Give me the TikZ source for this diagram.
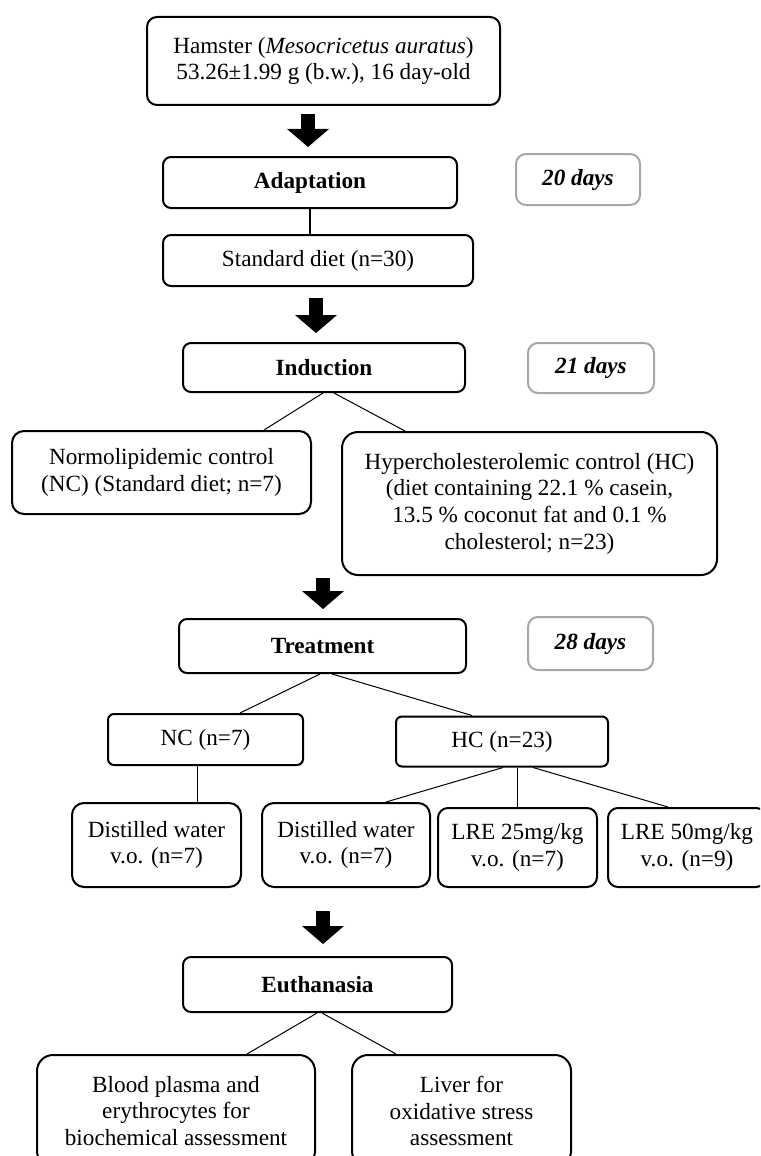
\documentclass[tikz,border=0pt]{standalone}
\usepackage{fontspec}
\setmainfont{Liberation Serif}
\usetikzlibrary{arrows.meta}
\definecolor{daygray}{HTML}{A6A6A6}
\newcommand{\flowfont}{\fontsize{11.6}{13.35}\selectfont}

\begin{document}
\begin{tikzpicture}[x=0.5pt, y=-0.5pt, font=\flowfont,
    box/.style={draw, line width=1pt, rounded corners=4pt, align=center, inner sep=0pt},
    stage/.style={box, font=\flowfont\bfseries},
    daybox/.style={draw=daygray, line width=1pt, rounded corners=5pt, inner sep=0pt,
        font=\flowfont\bfseries\itshape},
    link/.style={line width=0.5pt},
    bigarrow/.style={line width=7pt, -{Triangle[length=9pt, width=21pt, line width=0pt]}}]
    % Fix the page to the picture frame
    \useasboundingbox (0,0) rectangle (760,1156);
    \clip (0,0) rectangle (760,1156);

    % 1. Animals and adaptation
    \node[box, rounded corners=5pt, minimum width=176.5pt, minimum height=44pt] (hamster) at (323.5,61)
        {Hamster (\textit{Mesocricetus auratus})\\53.26±1.99 g (b.w.), 16 day-old};
    \node[stage, minimum width=147pt, minimum height=25.5pt] (adapt) at (310,182.5) {Adaptation};
    \node[daybox, minimum width=62pt, minimum height=25.5pt] (days20) at (578,179.5) {20 days};
    \node[box, minimum width=155pt, minimum height=25.5pt] (diet) at (318,260.5) {Standard diet (n=30)};

    % 2. Induction
    \node[stage, minimum width=141pt, minimum height=24.5pt] (induct) at (324,367.5) {Induction};
    \node[daybox, minimum width=63pt, minimum height=25pt] (days21) at (591,368) {21 days};
    \node[box, rounded corners=6pt, minimum width=149.5pt, minimum height=41.5pt] (normo) at (161.5,472.5)
        {Normolipidemic control\\(NC) (Standard diet; n=7)};
    \node[box, rounded corners=8pt, minimum width=187.5pt, minimum height=71.5pt] (hyper) at (529.5,503.5)
        {Hypercholesterolemic control (HC)\\(diet containing 22.1 \% casein,\\13.5 \% coconut fat and 0.1 \%\\cholesterol; n=23)};

    % 3. Treatment
    \node[stage, minimum width=143.5pt, minimum height=27pt] (treat) at (322.5,646) {Treatment};
    \node[daybox, minimum width=62.5pt, minimum height=26.5pt] (days28) at (590.5,643.5) {28 days};
    \node[box, rounded corners=3pt, minimum width=97.5pt, minimum height=25.5pt] (nc) at (205.5,739.5) {NC (n=7)};
    \node[box, rounded corners=3pt, minimum width=106pt, minimum height=25pt] (hc) at (502,741.5) {HC (n=23)};
    \node[box, rounded corners=6pt, minimum width=84.5pt, minimum height=42pt] (dwnc) at (156.5,845)
        {Distilled water\\v.o. (n=7)};
    \node[box, rounded corners=6pt, minimum width=84pt, minimum height=42pt] (dwhc) at (346,845)
        {Distilled water\\v.o. (n=7)};
    \node[box, rounded corners=5pt, minimum width=79.5pt, minimum height=39.5pt] (lre25) at (517.5,847.5)
        {LRE 25mg/kg\\v.o. (n=7)};
    \node[box, rounded corners=5pt, minimum width=79pt, minimum height=39.5pt] (lre50) at (687,847.5)
        {LRE 50mg/kg\\v.o. (n=9)};

    % 4. Euthanasia
    \node[stage, minimum width=134.5pt, minimum height=27.5pt] (euth) at (317.5,984.5) {Euthanasia};
    \node[box, rounded corners=8pt, minimum width=139pt, minimum height=56pt] (blood) at (176,1111)
        {Blood plasma and\\erythrocytes for\\biochemical assessment};
    \node[box, rounded corners=8pt, minimum width=109.5pt, minimum height=56pt] (liver) at (461.5,1111)
        {Liver for\\oxidative stress\\assessment};

    % 5. Block arrows between the stages
    \draw[bigarrow, shorten <=4pt, shorten >=4.5pt] ([xshift=-7.75pt]hamster.south) -- ([xshift=-1pt]adapt.north);
    \draw[bigarrow, shorten <=5.5pt, shorten >=4.5pt] ([xshift=-1pt]diet.south) -- ([xshift=-4pt]induct.north);
    \draw[bigarrow, shorten <=1pt, shorten >=4.5pt] ([xshift=-103.25pt]hyper.south) -- ([xshift=0.25pt]treat.north);
    \draw[bigarrow, shorten <=11.5pt, shorten >=6pt] ([xshift=-11.5pt]dwhc.south) -- ([xshift=2.75pt]euth.north);

    % 6. Thin links between the groups
    \draw[line width=1pt] (adapt.south) -- (adapt.south |- diet.north);
    \draw[link] ([xshift=-0.5pt]induct.south) -- ([xshift=51.25pt]normo.north);
    \draw[link] ([xshift=5pt]induct.south) -- ([xshift=-62.25pt]hyper.north);
    \draw[link] ([xshift=-1.25pt]treat.south) -- ([xshift=17.25pt]nc.north);
    \draw[link] ([xshift=4.75pt]treat.south) -- ([xshift=-15pt]hc.north);
    \draw[link] ([xshift=-4.25pt]nc.south) -- ([xshift=20.25pt]dwnc.north);
    \draw[link] ([xshift=0.5pt]hc.south) -- ([xshift=20pt]dwhc.north);
    \draw[link] ([xshift=7.5pt]hc.south) -- ([xshift=-0.25pt]lre25.north);
    \draw[link] ([xshift=15.5pt]hc.south) -- ([xshift=-9.5pt]lre50.north);
    \draw[link] ([xshift=-0.25pt]euth.south) -- ([xshift=35.5pt]blood.north);
    \draw[link] ([xshift=2.25pt]euth.south) -- ([xshift=-32.75pt]liver.north);

\end{tikzpicture}
\end{document}
